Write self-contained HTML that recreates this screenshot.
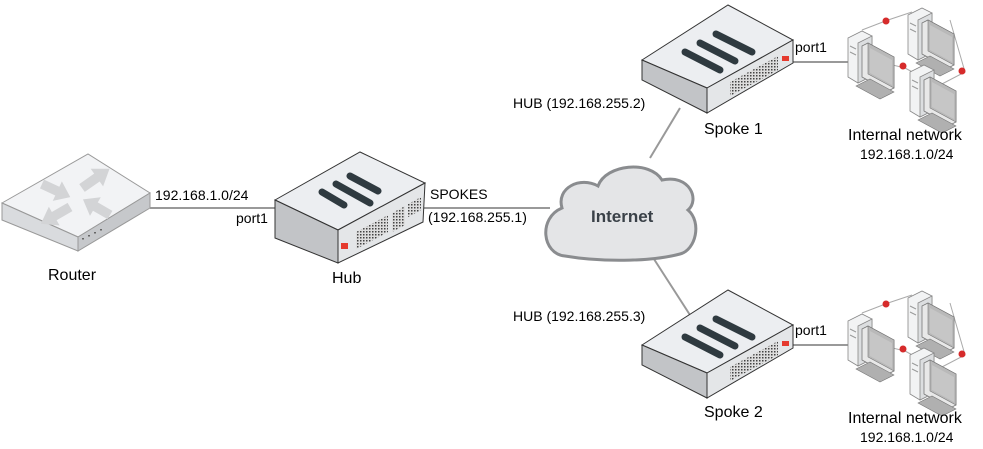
<!DOCTYPE html>
<html><head><meta charset="utf-8"><style>
html,body{margin:0;padding:0;background:#fff;}
svg{display:block;font-family:"Liberation Sans",Arial,sans-serif;}
</style></head><body>
<svg width="983" height="449" viewBox="0 0 983 449" xmlns="http://www.w3.org/2000/svg">
<defs>
<pattern id="grill" width="3" height="3" patternUnits="userSpaceOnUse"><rect width="3" height="3" fill="#ddd"/><rect width="1.5" height="1.5" fill="#444"/></pattern>
<g id="pc">
  <polygon points="0,12 14,5 24,10 24,50 10,57 0,51" fill="#f2f3f4" stroke="#888" stroke-width="0.8"/>
  <polygon points="10,17 24,10 24,50 10,57" fill="#dcdee0" stroke="#888" stroke-width="0.8"/>
  <line x1="2" y1="20" x2="8" y2="23" stroke="#999"/>
  <line x1="2" y1="26" x2="8" y2="29" stroke="#999"/>
  <polygon points="14,20 20,17 46,31 46,62 40,65 14,51" fill="#e8e8e8" stroke="#777" stroke-width="0.8"/>
  <polygon points="20,17 46,31 46,62 20,48" fill="#b9b9b9" stroke="#777" stroke-width="0.6"/>
  <polygon points="22,22 44,34 44,59 22,47" fill="#c6c6c6"/>
  <polygon points="8,60 22,53 46,66 32,73" fill="#b0b0b0" stroke="#777" stroke-width="0.6"/>
</g>
<polygon id="arr" points="0,-4 13,-4 13,-9 24,0 13,9 13,4 0,4" fill="#d3d4d6"/>
</defs>

<!-- connectors -->
<g stroke="#999" stroke-width="2" fill="none">
<line x1="150" y1="208" x2="276" y2="208"/>
<line x1="424" y1="208" x2="550" y2="208"/>
<line x1="650" y1="158" x2="680" y2="108"/>
<line x1="652" y1="256" x2="690" y2="315"/>
<line x1="792" y1="62" x2="852" y2="62"/>
<line x1="792" y1="345" x2="852" y2="345"/>
</g>
<g stroke="#aaa" stroke-width="1" fill="none">
<polyline points="862,30 888,20 912,12"/>
<polyline points="950,20 965,72 940,85"/>
<polyline points="880,62 905,68 918,75"/>
<polyline points="862,313 888,303 912,295"/>
<polyline points="950,303 965,355 940,368"/>
<polyline points="880,345 905,351 918,358"/>
</g>

<!-- Router -->
<polygon points="2,203 88,154 150,193 78,237" fill="#f2f3f5" stroke="#999" stroke-width="1"/>
<polygon points="2,203 78,237 78,251 2,220" fill="#d9dbde" stroke="#999" stroke-width="1"/>
<polygon points="78,237 150,193 150,208 78,251" fill="#c6c8cb" stroke="#999" stroke-width="1"/>
<use href="#arr" transform="translate(82,188) rotate(-35) scale(1.4,1.2)"/>
<use href="#arr" transform="translate(42,184) rotate(25) scale(1.3,1.2)"/>
<use href="#arr" transform="translate(70,207) rotate(150) scale(1.4,1.2)"/>
<use href="#arr" transform="translate(110,215) rotate(-150) scale(1.3,1.2)"/>
<g fill="#666"><rect x="82" y="238" width="2" height="1.5"/><rect x="88" y="235" width="2" height="1.5"/><rect x="94" y="232" width="2" height="1.5"/><rect x="100" y="229" width="2" height="1.5"/></g>
<text x="48" y="280" font-size="16">Router</text>
<text x="155" y="200" font-size="14">192.168.1.0/24</text>
<text x="236" y="223" font-size="14">port1</text>

<!-- Hub -->
<polygon points="275,200 360,152 425,183 338,230" fill="#eceef1" stroke="#333" stroke-width="1"/>
<polygon points="275,200 338,230 338,263 275,238" fill="#c2c4c7" stroke="#333" stroke-width="1"/>
<polygon points="338,230 425,183 423,222 338,263" fill="#e4e6e8" stroke="#333" stroke-width="1"/>
<g stroke="#2f3a40" stroke-width="7" stroke-linecap="round">
<line x1="322" y1="192" x2="344" y2="205"/>
<line x1="336" y1="184" x2="370" y2="203"/>
<line x1="350" y1="176" x2="378" y2="191"/>
</g>
<polygon points="356,232 388,215 388,232 356,249" fill="url(#grill)"/>
<polygon points="392,213 405,206 405,225 392,232" fill="url(#grill)"/>
<polygon points="408,204 421,197 421,210 408,217" fill="url(#grill)"/>
<rect x="341" y="243" width="7" height="6" fill="#e53a2e"/>
<text x="332" y="283" font-size="16">Hub</text>
<text x="430" y="199" font-size="14">SPOKES</text>
<text x="428" y="222" font-size="14">(192.168.255.1)</text>

<!-- Cloud -->
<path d="M565,256 C542,254 538,218 562,208 C556,188 580,176 598,186 C606,164 650,160 662,180 C690,174 700,200 688,210 C702,222 696,250 680,254 C650,262 600,262 565,256 Z" fill="#e4e5e7" stroke="#8a8c8f" stroke-width="3"/>
<text x="591" y="222" font-size="17" font-weight="bold" fill="#3a4148">Internet</text>

<!-- Spoke 1 -->
<g id="spoke">
<polygon points="642,60 728,5 793,40 707,88" fill="#eceef1" stroke="#333" stroke-width="1"/>
<polygon points="642,60 707,88 707,113 642,80" fill="#c2c4c7" stroke="#333" stroke-width="1"/>
<polygon points="707,88 793,40 793,63 707,113" fill="#e4e6e8" stroke="#333" stroke-width="1"/>
<g stroke="#2f3a40" stroke-width="7" stroke-linecap="round">
<line x1="685" y1="52" x2="720" y2="70"/>
<line x1="700" y1="43" x2="735" y2="61"/>
<line x1="716" y1="34" x2="752" y2="52"/>
</g>
<polygon points="730,82 778,56 778,70 730,96" fill="url(#grill)"/>
<rect x="782" y="56" width="7" height="5" fill="#e53a2e"/>
</g>
<use href="#spoke" transform="translate(0,285)"/>

<text x="513" y="108" font-size="14">HUB (192.168.255.2)</text>
<text x="704" y="134" font-size="16">Spoke 1</text>
<text x="795" y="52" font-size="14">port1</text>
<text x="513" y="321" font-size="14">HUB (192.168.255.3)</text>
<text x="704" y="417" font-size="16">Spoke 2</text>
<text x="795" y="335" font-size="14">port1</text>

<!-- Computers -->
<g id="pcs">
<use href="#pc" x="848" y="26"/>
<use href="#pc" x="908" y="3"/>
<use href="#pc" x="910" y="60"/>
<circle cx="886" cy="21" r="3.5" fill="#d62b2b"/>
<circle cx="903" cy="66" r="3.5" fill="#d62b2b"/>
<circle cx="962" cy="71" r="3.5" fill="#d62b2b"/>
</g>
<use href="#pcs" transform="translate(0,283)"/>

<text x="848" y="140" font-size="16">Internal network</text>
<text x="860" y="159" font-size="14">192.168.1.0/24</text>
<text x="848" y="423" font-size="16">Internal network</text>
<text x="860" y="442" font-size="14">192.168.1.0/24</text>
</svg>
</body></html>
